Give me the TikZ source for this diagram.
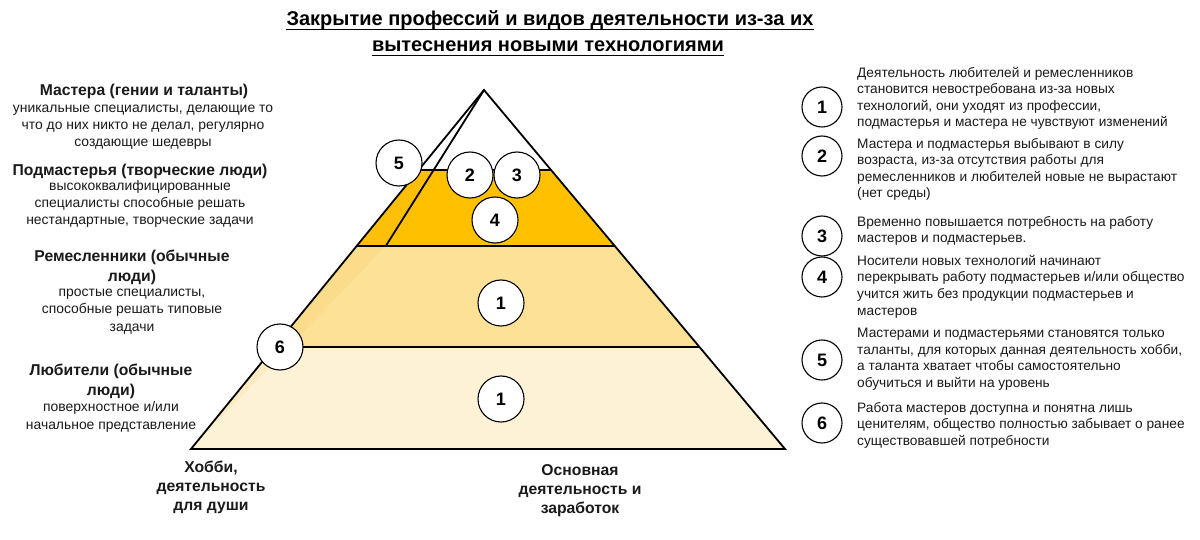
\documentclass[tikz,border=0pt]{standalone}
\usepackage{fontspec}
\setmainfont{Liberation Sans}
\usetikzlibrary{calc}
\definecolor{bandA}{HTML}{FFC000}
\definecolor{bandB}{HTML}{FCE196}
\definecolor{bandC}{HTML}{FEF2D6}
\definecolor{strip}{RGB}{245,190,60}
\definecolor{txt}{HTML}{1A1A1A}
\begin{document}
\begin{tikzpicture}[x=1pt,y=-1pt,
  edge/.style={line width=1.8pt, line join=miter},
  pnum/.style={circle, draw=black, line width=1.1pt, fill=white, minimum size=46pt, inner sep=0pt, font=\fontsize{18}{18}\selectfont\bfseries},
  lnum/.style={circle, draw=black, line width=1.1pt, fill=white, minimum size=40pt, inner sep=0pt, font=\fontsize{18}{18}\selectfont\bfseries},
  lhead/.style={font=\fontsize{15.7}{19.5}\selectfont\bfseries, align=center, anchor=base, inner sep=0pt, text=txt},
  lbody/.style={font=\fontsize{13.9}{17.2}\selectfont, align=center, anchor=base, inner sep=0pt, text=txt},
  rtext/.style={font=\fontsize{13.7}{16.5}\selectfont, align=left, anchor=base west, inner sep=0pt, text=txt},
  ttl/.style={font=\fontsize{20}{20}\selectfont\bfseries, anchor=base, inner sep=0pt},
  blabel/.style={font=\fontsize{15.7}{19}\selectfont\bfseries, align=center, anchor=base, inner sep=0pt, text=txt}
]
\useasboundingbox (0,0) rectangle (1200,540);
\fill[white] (0,0) rectangle (1200,540);
% pyramid geometry
\coordinate (apex) at (484,90);
\coordinate (bl) at (191,449);
\coordinate (br) at (785,449);
\coordinate (ib) at (258,449);
\foreach \n/\t in {a/0.2228,b/0.4345,c/0.7159}{
  \coordinate (l\n) at ($(apex)!\t!(bl)$);
  \coordinate (r\n) at ($(apex)!\t!(br)$);
  \coordinate (i\n) at ($(apex)!\t!(ib)$);
}
\fill[bandA] (la) -- (ra) -- (rb) -- (lb) -- cycle;
\fill[bandB] (lb) -- (rb) -- (rc) -- (lc) -- cycle;
\fill[bandC] (lc) -- (rc) -- (br) -- (bl) -- cycle;
\fill[strip, opacity=0.12] (la) -- (ia) -- (ib) -- (bl) -- cycle;
\draw[edge] (apex) -- (bl) -- (br) -- cycle;
\draw[edge] (la) -- (ra);
\draw[edge] (lb) -- (rb);
\draw[edge] (lc) -- (rc);
\draw[edge] (apex) -- (ib);
% pyramid circles
\node[pnum] (p5) at (399,163) {5};
\node[pnum] (p2) at (470,175) {2};
\node[pnum] (p3) at (517,175) {3};
\node[pnum] (p4) at (495,220) {4};
\node[pnum] (p1a) at (501,303) {1};
\node[pnum] (p1b) at (501,399) {1};
\node[pnum] (p6) at (280,347) {6};
% title
\node[ttl] (t1) at (550,26) {Закрытие профессий и видов деятельности из-за их};
\node[ttl] (t2) at (548,52) {вытеснения новыми технологиями};
\draw[line width=1.3pt] ([yshift=-3.5pt]t1.base west) -- ([yshift=-3.5pt]t1.base east);
\draw[line width=1.3pt] ([yshift=-3.5pt]t2.base west) -- ([yshift=-3.5pt]t2.base east);
% left descriptions (anchor = baseline of last line)
\node[lhead] (h1) at (144,96) {Мастера (гении и таланты)};
\node[lbody] (b1) at (143,147) {уникальные специалисты, делающие то\\что до них никто не делал, регулярно\\создающие шедевры};
\node[lhead] (h2) at (140,176) {Подмастерья (творческие люди)};
\node[lbody] (b2) at (140,225) {высококвалифицированные\\специалисты способные решать\\нестандартные, творческие задачи};
\node[lhead] (h3) at (132,281) {Ремесленники (обычные\\люди)};
\node[lbody] (b3) at (132,331) {простые специалисты,\\способные решать типовые\\задачи};
\node[lhead] (h4) at (111,395) {Любители (обычные\\люди)};
\node[lbody] (b4) at (111,429) {поверхностное и/или\\начальное представление};
% bottom labels
\node[blabel] (hob) at (211,510) {Хобби,\\деятельность\\для души};
\node[blabel] (osn) at (580,513) {Основная\\деятельность и\\заработок};
% right list
\node[lnum] (n1) at (822,107) {1};
\node[lnum] (n2) at (822,156) {2};
\node[lnum] (n3) at (822,236) {3};
\node[lnum] (n4) at (822,277) {4};
\node[lnum] (n5) at (822,360) {5};
\node[lnum] (n6) at (822,423) {6};
\node[rtext] (d1) at (857,127) {Деятельность любителей и ремесленников\\становится невостребована из-за новых\\технологий, они уходят из профессии,\\подмастерья и мастера не чувствуют изменений};
\node[rtext] (d2) at (857,198) {Мастера и подмастерья выбывают в силу\\возраста, из-за отсутствия работы для\\ремесленников и любителей новые не вырастают\\(нет среды)};
\node[rtext] (d3) at (857,243) {Временно повышается потребность на работу\\мастеров и подмастерьев.};
\node[rtext] (d4) at (857,315) {Носители новых технологий начинают\\перекрывать работу подмастерьев и/или общество\\учится жить без продукции подмастерьев и\\мастеров};
\node[rtext] (d5) at (857,387) {Мастерами и подмастерьями становятся только\\таланты, для которых данная деятельность хобби,\\а таланта хватает чтобы самостоятельно\\обучиться и выйти на уровень};
\node[rtext] (d6) at (857,445) {Работа мастеров доступна и понятна лишь\\ценителям, общество полностью забывает о ранее\\существовавшей потребности};
\end{tikzpicture}
\end{document}
